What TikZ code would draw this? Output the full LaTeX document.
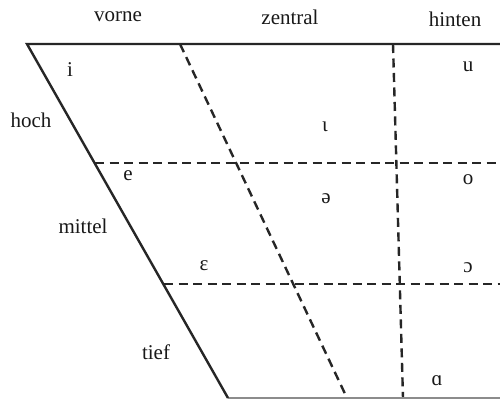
\documentclass[tikz,border=0pt]{standalone}
\usepackage{fontspec}
\setmainfont{Liberation Serif}
\begin{document}
\begin{tikzpicture}[x=1pt,y=-1pt,
  solidline/.style={line width=2.4pt, draw=black!85},
  dashline/.style={line width=2.4pt, draw=black!85, dash pattern=on 9pt off 5.5pt},
  lbl/.style={inner sep=0pt, font=\fontsize{21}{25}\selectfont, text=black!90}]
\useasboundingbox[fill=white] (0,0) rectangle (500,399);
% corner coordinates
\coordinate (tl) at (27,44);
\coordinate (tr) at (501,44);
\coordinate (bl) at (228,398);
\coordinate (br) at (501,398);
\coordinate (h1l) at (95,163);
\coordinate (h1r) at (501,163);
\coordinate (h2l) at (164,284);
\coordinate (h2r) at (501,284);
\coordinate (c1t) at (180,44);
\coordinate (c1b) at (347,398);
\coordinate (c2t) at (393,44);
\coordinate (c2b) at (403,398);
% frame
\draw[dashline] (h1l) -- (h1r);
\draw[dashline] (h2l) -- (h2r);
\draw[dashline] (c1t) -- (c1b);
\draw[dashline] (c2t) -- (c2b);
\draw[line width=1.5pt, draw=black!45] (bl) -- (br);
\draw[solidline] (tr) -- (tl) -- (bl);
% axis labels
\node[lbl] (vorne) at (118,17) {vorne};
\node[lbl] (zentral) at (290,17) {zentral};
\node[lbl] (hinten) at (455,19) {hinten};
\node[lbl] (hoch) at (31,120) {hoch};
\node[lbl] (mittel) at (83,226) {mittel};
\node[lbl] (tief) at (156,352) {tief};
% vowels
\node[lbl] (vi) at (70,70) {i};
\node[lbl] (vu) at (468,67) {u};
\node[lbl] (viota) at (325,127) {ι};
\node[lbl] (ve) at (128,176) {e};
\node[lbl] (vo) at (468,180) {o};
\node[lbl] (vschwa) at (326,199) {ə};
\node[lbl] (veps) at (204,266) {ε};
\node[lbl] (vopen) at (468,268) {ɔ};
\node[lbl] (va) at (437,381) {ɑ};
\end{tikzpicture}
\end{document}
